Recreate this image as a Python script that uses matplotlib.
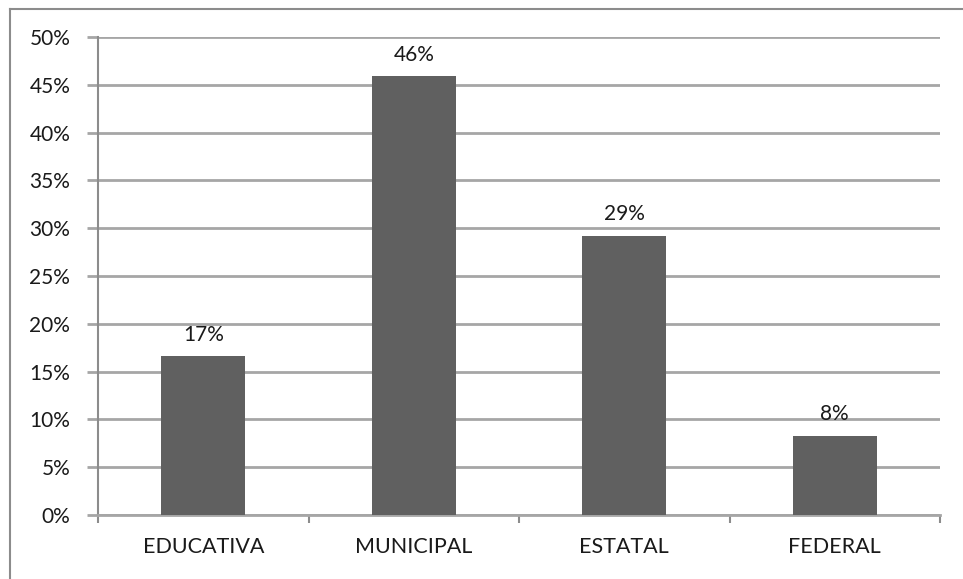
import numpy as np
import matplotlib.pyplot as plt
from matplotlib.lines import Line2D

categories = ['EDUCATIVA', 'MUNICIPAL', 'ESTATAL', 'FEDERAL']
values = [16.6, 45.9, 29.2, 8.3]
labels = ['17%', '46%', '29%', '8%']
yticks = [0, 5, 10, 15, 20, 25, 30, 35, 40, 45, 50]

plt.rcParams['font.family'] = ['Lato', 'DejaVu Sans']

fig = plt.figure(figsize=(9.63, 5.79), dpi=100)
# outer frame of the chart: only top and left edges are visible
fx, fy = 10/963, 1 - 9/579
fig.lines.append(Line2D([fx, 1.0], [fy, fy], transform=fig.transFigure,
                        color='#8c8c8c', lw=1.5))
fig.lines.append(Line2D([fx, fx], [0, fy], transform=fig.transFigure,
                        color='#8c8c8c', lw=1.5))

ax = fig.add_axes([98/963, 1 - 515/579, (940-98)/963, (515-37)/579])
x = np.arange(len(categories))
ax.bar(x, values, width=0.4, color='#606060', zorder=3)
for xi, v, lab in zip(x, values, labels):
    ax.text(xi, v + 1.2, lab, ha='center', va='bottom', fontsize=15, color='#1a1a1a')

ax.set_xlim(-0.5, len(categories) - 0.5)
ax.set_ylim(0, 50)
ax.set_yticks(yticks)
ax.set_yticklabels([f'{t}%' for t in yticks], fontsize=15, color='#1a1a1a')
ax.yaxis.grid(True, color='#a6a6a6', lw=2, zorder=0)
ax.tick_params(axis='y', length=8, color='#a6a6a6', width=2, pad=12)

ax.set_xticks(x)
ax.set_xticklabels(categories, fontsize=15.5, color='#1a1a1a')
ax.set_xticks(np.arange(len(categories) + 1) - 0.5, minor=True)
ax.tick_params(axis='x', which='major', length=0, pad=16)
ax.tick_params(axis='x', which='minor', length=6, color='#8c8c8c', width=1.5)

for s in ['top', 'right']:
    ax.spines[s].set_visible(False)
ax.spines['left'].set_color('#8c8c8c')
ax.spines['bottom'].set_color('#a6a6a6')
ax.spines['left'].set_linewidth(1.5)
ax.spines['bottom'].set_linewidth(2)

fig.savefig('out.png', dpi=100)
